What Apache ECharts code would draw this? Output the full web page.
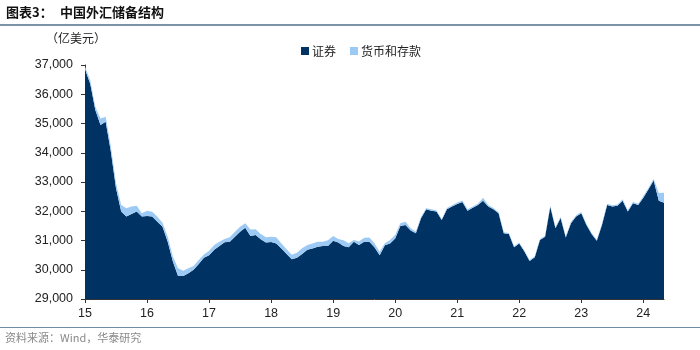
<!DOCTYPE html>
<html>
<head>
<meta charset="utf-8">
<script src="https://cdn.jsdelivr.net/npm/echarts@6/dist/echarts.min.js"></script>
<style>
html,body{margin:0;padding:0;background:#fff;}
#c{width:700px;height:350px;}
</style>
</head>
<body>
<div id="c"></div>
<script>
// Monthly, Jan 2015 – May 2024
const yearLabels = ['15','16','17','18','19','20','21','22','23','24'];
const months = [];
for (let y = 2015; y <= 2024; y++) {
  for (let m = 1; m <= 12; m++) {
    if (y === 2024 && m > 5) break;
    months.push(y + '-' + (m < 10 ? '0' + m : m));
  }
}
// 证券 (亿美元)
const securities = [
  36850,36370,35460,34950,35060,34040,32790,31990,31820,31910,31990,31820,
  31840,31820,31640,31470,30960,30280,29790,29790,29880,30000,30200,30410,
  30500,30680,30810,30940,30960,31130,31300,31440,31150,31190,31040,30930,
  30950,30900,30730,30540,30360,30410,30540,30680,30730,30790,30810,30810,
  30990,30930,30810,30770,30960,30850,30960,30960,30770,30500,30840,30900,
  31070,31500,31530,31340,31250,31760,32070,32020,31990,31700,32070,32160,
  32250,32320,32020,32120,32210,32360,32160,32070,31930,31250,31220,30770,
  30900,30620,30300,30430,31020,31130,32150,31420,31770,31100,31590,31820,
  31930,31530,31220,30990,31530,32210,32160,32190,32360,31990,32270,32210,
  32460,32750,33050,32360,32290
];
// 货币和存款 (亿美元)
const deposits = [
  100,115,115,225,170,170,170,225,280,250,195,115,
  180,160,170,140,170,170,260,180,170,130,135,115,
  150,170,150,115,150,170,170,150,230,195,180,185,
  180,210,170,160,150,170,195,170,170,170,150,200,
  160,125,200,140,60,115,135,145,135,115,70,115,
  115,90,115,80,55,55,35,45,35,25,40,45,
  45,45,45,40,45,100,50,45,40,35,35,35,
  35,35,30,30,35,35,40,35,40,35,40,45,
  45,45,40,35,40,45,45,45,50,40,45,45,
  60,55,60,260,340
];

const chart = echarts.init(document.getElementById('c'), null, {renderer:'canvas'});
const fontLatin = 'Liberation Sans, Arial, sans-serif';
const fontCJK = '"Noto Sans CJK SC", sans-serif';

chart.setOption({
  animation: false,
  backgroundColor: '#fff',
  grid: {left: 85, right: 36, top: 65, bottom: 51},
  legend: {
    left: 296, top: 40,
    itemWidth: 8, itemHeight: 8, itemGap: 14,
    icon: 'rect',
    textStyle: {fontFamily: fontCJK, fontSize: 12, color: '#222', padding: [0,0,0,-2]},
    data: ['证券', '货币和存款']
  },
  xAxis: {
    type: 'category',
    data: months,
    boundaryGap: false,
    axisLine: {lineStyle: {color: '#333', width: 1}},
    axisTick: {
      show: true, length: 4, inside: false,
      interval: function (i) { return i % 12 === 0; },
      lineStyle: {color: '#333'}
    },
    axisLabel: {
      interval: function (i) { return i % 12 === 0; },
      formatter: function (v, i) { return yearLabels[Math.floor(i / 12)]; },
      fontFamily: fontLatin, fontSize: 12.5, color: '#222', margin: 8
    },
    splitLine: {show: false}
  },
  yAxis: {
    type: 'value',
    min: 29000, max: 37000, interval: 1000,
    axisLine: {show: true, lineStyle: {color: '#333', width: 1}},
    axisTick: {show: true, length: 4, lineStyle: {color: '#333'}},
    axisLabel: {
      formatter: function (v) { return v.toLocaleString('en-US'); },
      fontFamily: fontLatin, fontSize: 12.5, color: '#222', margin: 12
    },
    splitLine: {show: false}
  },
  series: [
    {
      name: '证券', type: 'line', stack: 'total', data: securities,
      showSymbol: false, symbol: 'none',
      lineStyle: {width: 0}, areaStyle: {color: '#003263', opacity: 1},
      itemStyle: {color: '#003263'}
    },
    {
      name: '货币和存款', type: 'line', stack: 'total', data: deposits,
      showSymbol: false, symbol: 'none',
      lineStyle: {width: 0}, areaStyle: {color: '#9dcaf4', opacity: 1},
      itemStyle: {color: '#9dcaf4'}
    }
  ],
  graphic: [
    {type: 'text', left: 6, top: 6, style: {text: '图表3：', font: 'bold 13px "Noto Sans CJK SC", sans-serif', fill: '#111'}},
    {type: 'text', left: 60, top: 6, style: {text: '中国外汇储备结构', font: 'bold 13px "Noto Sans CJK SC", sans-serif', fill: '#111'}},
    {type: 'rect', shape: {x: 0, y: 24, width: 700, height: 2}, style: {fill: '#7d93a8'}},
    {type: 'text', left: 46, top: 32, style: {text: '（亿美元）', font: '12px "Noto Sans CJK SC", sans-serif', fill: '#222'}},
    {type: 'rect', shape: {x: 0, y: 327, width: 700, height: 1}, style: {fill: '#6f8aa3'}},
    {type: 'text', left: 5, top: 332, style: {text: '资料来源：Wind，华泰研究', font: '11px "Noto Sans CJK SC", sans-serif', fill: '#8a8a8a'}}
  ]
});
</script>
</body>
</html>
